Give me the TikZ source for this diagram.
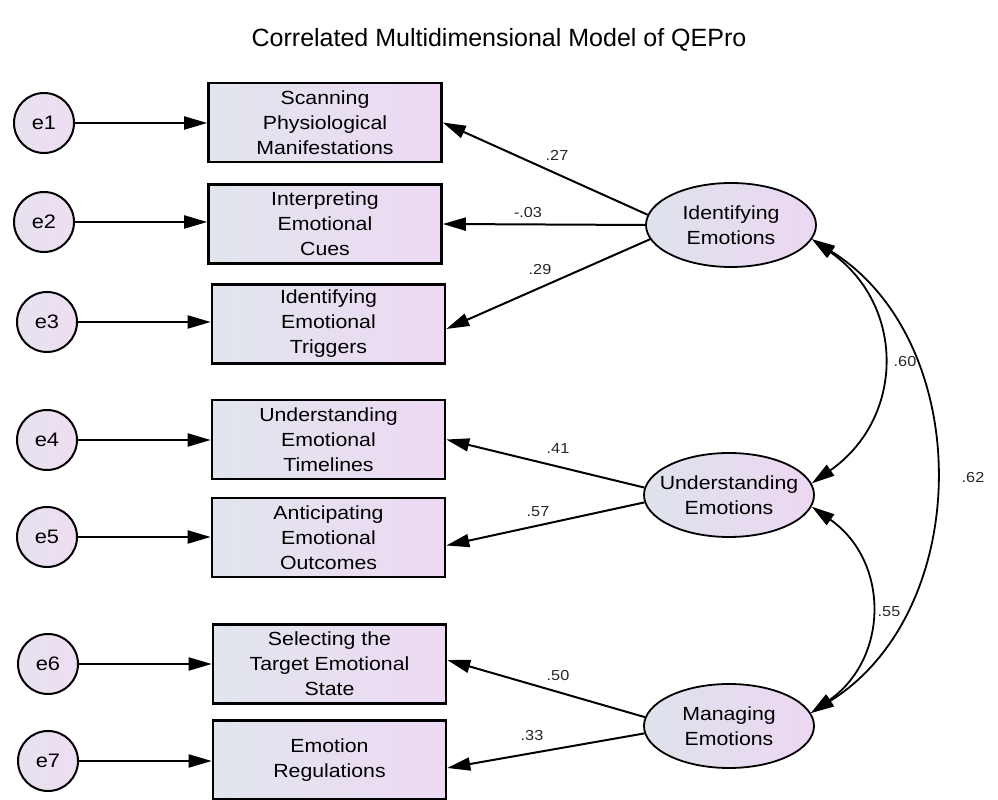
\documentclass[tikz,border=0pt]{standalone}
\usepackage{fontspec}
\setmainfont{Liberation Sans}
\newfontfamily\boxfont[FakeStretch=1.12]{Liberation Sans}
\usetikzlibrary{arrows.meta,shapes.geometric}
\definecolor{boxL}{HTML}{E1E5ED}
\definecolor{boxR}{HTML}{EDD9F3}
\definecolor{ellL}{HTML}{DEE2EB}
\definecolor{ellR}{HTML}{ECD7F2}
\definecolor{errL}{HTML}{E6E2EE}
\definecolor{errR}{HTML}{EFDDF3}
\begin{document}
\begin{tikzpicture}[x=1pt,y=1pt,
  obsbox/.style={rectangle, draw=black, line width=2.6pt, left color=boxL, right color=boxR,
    minimum width=233pt, minimum height=79pt, inner sep=0pt, align=center,
    font=\boxfont\fontsize{19}{25}\selectfont},
  errnode/.style={circle, draw=black, line width=2pt, left color=errL, right color=errR,
    minimum size=60pt, inner sep=0pt, font=\boxfont\fontsize{19.5}{25}\selectfont},
  latnode/.style={ellipse, draw=black, line width=1.8pt, left color=ellL, right color=ellR,
    minimum width=170pt, minimum height=84pt, inner sep=0pt},
  lattext/.style={align=center, font=\boxfont\fontsize{19}{25}\selectfont, inner sep=0pt},
  conn/.style={line width=2pt, -{Triangle[length=23pt,width=13pt]}},
  cov/.style={line width=1.8pt, {Triangle[length=23pt,width=13pt]}-{Triangle[length=23pt,width=13pt]}},
  coef/.style={font=\boxfont\fontsize{14.5}{16}\selectfont, inner sep=0pt, text=black!85}
]
\useasboundingbox[fill=white] (0,0) rectangle (998,800);

\node[font=\fontsize{25}{30}\selectfont, text=black] (title) at (499,760) {Correlated Multidimensional Model of QEPro};

% error terms
\node[errnode] (e1) at (44,677) {e1};
\node[errnode] (e2) at (44,578) {e2};
\node[errnode] (e3) at (47,478) {e3};
\node[errnode] (e4) at (47,360) {e4};
\node[errnode] (e5) at (47,263) {e5};
\node[errnode] (e6) at (48,136) {e6};
\node[errnode] (e7) at (48,39) {e7};

% observed variables
\node[obsbox] (b1) at (325,677.5) {Scanning\\Physiological\\Manifestations};
\node[obsbox] (b2) at (325,576) {Interpreting\\Emotional\\Cues};
\node[obsbox] (b3) at (328.5,476) {Identifying\\Emotional\\Triggers};
\node[obsbox] (b4) at (328.5,360.5) {Understanding\\Emotional\\Timelines};
\node[obsbox] (b5) at (328.5,262.5) {Anticipating\\Emotional\\Outcomes};
\node[obsbox] (b6) at (329.5,136) {Selecting the\\Target Emotional\\State};
\node[obsbox] (b7) at (329.5,40) {Emotion\\Regulations};

% latent variables
\node[latnode] (ident) at (731,575) {};
\node[lattext] (identtxt) at (ident) {Identifying\\Emotions};
\node[latnode] (under) at (729,305) {};
\node[lattext] (undertxt) at (under) {Understanding\\Emotions};
\node[latnode] (manag) at (729,74) {};
\node[lattext] (managtxt) at (manag) {Managing\\Emotions};

% error arrows
\foreach \e/\b in {e1/b1,e2/b2,e3/b3,e4/b4,e5/b5,e6/b6,e7/b7}{
  \draw[conn] (\e.east) -- (\e.east -| \b.west);
}

% loadings
\draw[conn] (ident.173) -- (b1.east);
\draw[conn] (ident.180) -- (b2.east);
\draw[conn] (ident.190) -- ([yshift=-5pt]b3.east);
\draw[conn] (under.175) -- (b4.east);
\draw[conn] (under.185) -- ([yshift=-8pt]b5.east);
\draw[conn] (manag.174) -- ([yshift=4pt]b6.east);
\draw[conn] (manag.185) -- ([yshift=-8pt]b7.east);

% covariances
\draw[cov] (ident.-10) to[out=-35,in=35,looseness=1.2] (under.8);
\draw[cov] (ident.-10) to[out=-32,in=32,looseness=1.04] (manag.9);
\draw[cov] (under.-8) to[out=-35,in=35,looseness=1.18] (manag.9);

% coefficients
\node[coef] (c1) at (557,645) {.27};
\node[coef] (c2) at (528,587) {-.03};
\node[coef] (c3) at (540,530) {.29};
\node[coef] (c4) at (558,351) {.41};
\node[coef] (c5) at (538,288) {.57};
\node[coef] (c6) at (558,124) {.50};
\node[coef] (c7) at (532,64) {.33};
\node[coef] (c8) at (905,438) {.60};
\node[coef] (c9) at (973,322) {.62};
\node[coef] (c10) at (889,188) {.55};
\end{tikzpicture}
\end{document}
